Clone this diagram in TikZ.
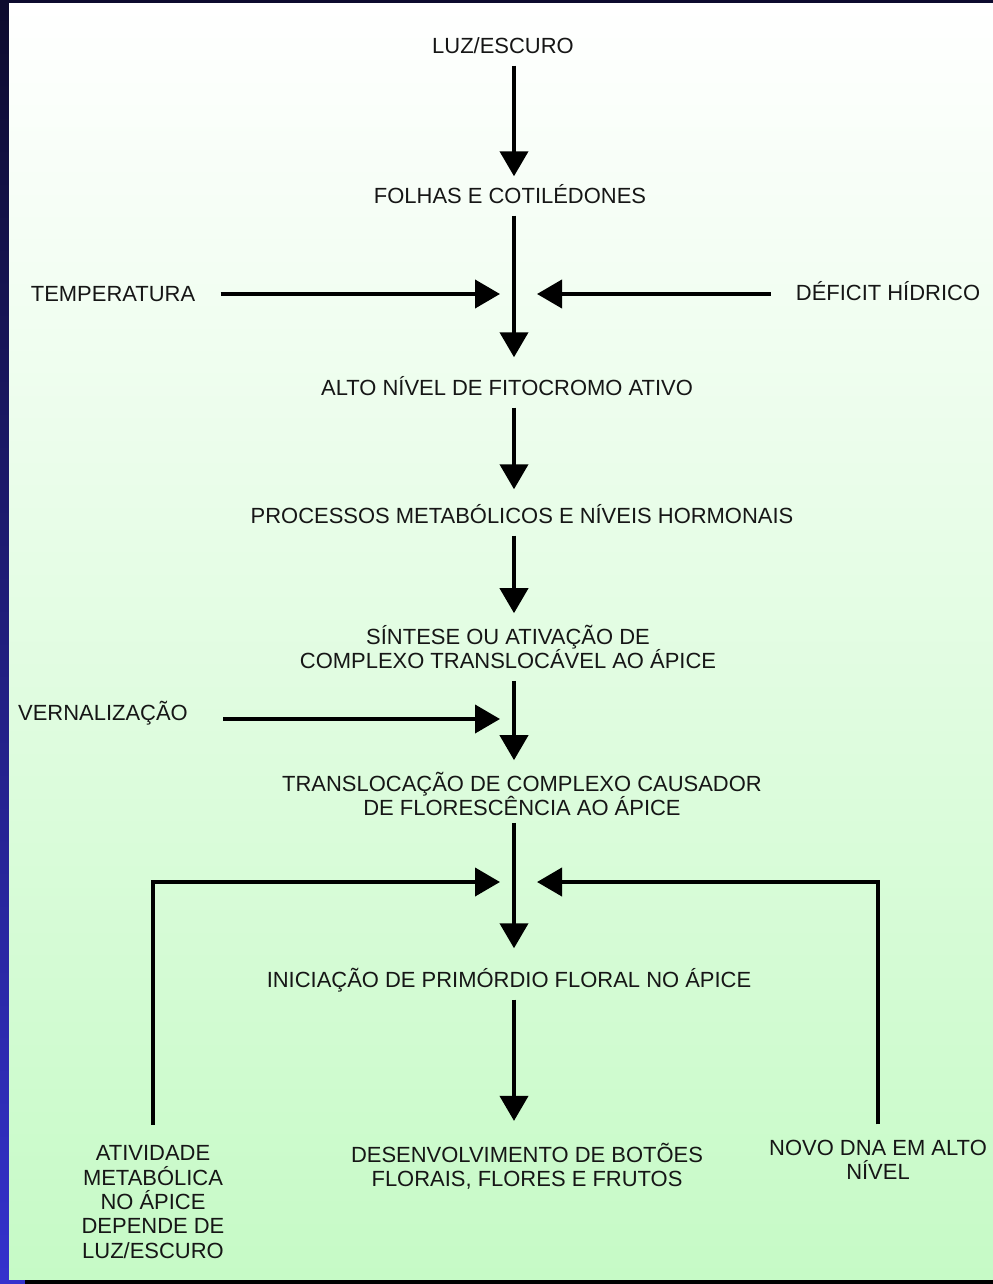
\documentclass[tikz,border=0pt]{standalone}
\usepackage{fontspec}
\setmainfont{Liberation Sans}
\usetikzlibrary{arrows.meta}

\definecolor{navy}{RGB}{13,11,46}
\definecolor{edgeblue}{RGB}{52,50,205}
\definecolor{palegreen}{RGB}{198,250,198}
\definecolor{inkgray}{RGB}{22,22,22}

\tikzset{
  lbl/.style={font=\fontsize{12.5}{13.9}\selectfont, text=inkgray,
              inner xsep=0.2cm, inner ysep=0.23cm},
  onelbl/.style={lbl, text height=0.315cm, text depth=0pt},
  multilbl/.style={lbl, align=center},
  sidelbl/.style={onelbl, inner xsep=0.5cm},
  wire/.style={line width=0.08cm, draw=black},
  flow/.style={wire, -{Triangle[length=0.5cm,width=0.56cm]}},
}

\begin{document}
\begin{tikzpicture}[x=0.02cm, y=-0.02cm]
  \useasboundingbox (0,0) rectangle (993,1284);
  % frame and background
  \fill[navy] (0,0) rectangle (993,1284);
  \shade[top color=navy, bottom color=edgeblue] (0,4) rectangle (9,1284);
  \fill[edgeblue] (0,1279) rectangle (25,1284);
  \fill[black] (25,1279) rectangle (993,1284);
  \shade[top color=white, bottom color=palegreen] (9,4) rectangle (993,1279);

  \coordinate (axis) at (514,0);

  % main chain
  \node (luz)     [onelbl] at (503,46)  {LUZ/ESCURO};
  \node (folhas)  [onelbl] at (510,196) {FOLHAS E COTILÉDONES};
  \node (alto)    [onelbl] at (507,388) {ALTO NÍVEL DE FITOCROMO ATIVO};
  \node (proc)    [onelbl] at (522,516) {PROCESSOS METABÓLICOS E NÍVEIS HORMONAIS};
  \node (sintese) [multilbl] at (508,647)
                  {SÍNTESE OU ATIVAÇÃO DE\\COMPLEXO TRANSLOCÁVEL AO ÁPICE};
  \node (transl)  [multilbl] at (522,794)
                  {TRANSLOCAÇÃO DE COMPLEXO CAUSADOR\\DE FLORESCÊNCIA AO ÁPICE};
  \node (inic)    [onelbl] at (509,980) {INICIAÇÃO DE PRIMÓRDIO FLORAL NO ÁPICE};
  \node (desenv)  [multilbl] at (527,1166)
                  {DESENVOLVIMENTO DE BOTÕES\\FLORAIS, FLORES E FRUTOS};

  % side factors
  \node (temp)    [sidelbl] at (113,294) {TEMPERATURA};
  \node (deficit) [sidelbl] at (888,293) {DÉFICIT HÍDRICO};
  \node (vern)    [sidelbl] at (103,713) {VERNALIZAÇÃO};
  \node (ativ)    [multilbl, inner ysep=0.41cm] at (153,1202)
                  {ATIVIDADE\\METABÓLICA\\NO ÁPICE\\DEPENDE DE\\LUZ/ESCURO};
  \node (novo)    [multilbl, inner ysep=0.31cm] at (878,1160)
                  {NOVO DNA EM ALTO\\NÍVEL};

  \coordinate (tempin)    at (500,294);
  \coordinate (deficitin) at (537,294);
  \coordinate (vernin)    at (500,719);
  \coordinate (ativin)    at (500,882);
  \coordinate (novoin)    at (537,882);

  \draw[flow] (axis |- luz.south)    -- (axis |- folhas.north);
  \draw[flow, shorten >=0.22cm] (axis |- folhas.south) -- (axis |- alto.north);
  \draw[flow, shorten >=0.14cm] (axis |- alto.south)   -- (axis |- proc.north);
  \draw[flow] (axis |- proc.south)   -- (axis |- sintese.north);
  \draw[flow] (axis |- sintese.south) -- (axis |- transl.north);
  \draw[flow, shorten <=-0.1cm, shorten >=0.24cm] (axis |- transl.south) -- (axis |- inic.north);
  \draw[flow, shorten >=0.2cm] (axis |- inic.south)   -- (axis |- desenv.north);

  \draw[flow] (temp.east |- tempin) -- (tempin);
  \draw[flow] (deficit.west |- deficitin) -- (deficitin);
  \draw[flow, shorten <=0.2cm] (vern.east |- vernin) -- (vernin);
  \draw[flow] (ativ.north) |- (ativin);
  \draw[flow] (novo.north) |- (novoin);
\end{tikzpicture}
\end{document}
